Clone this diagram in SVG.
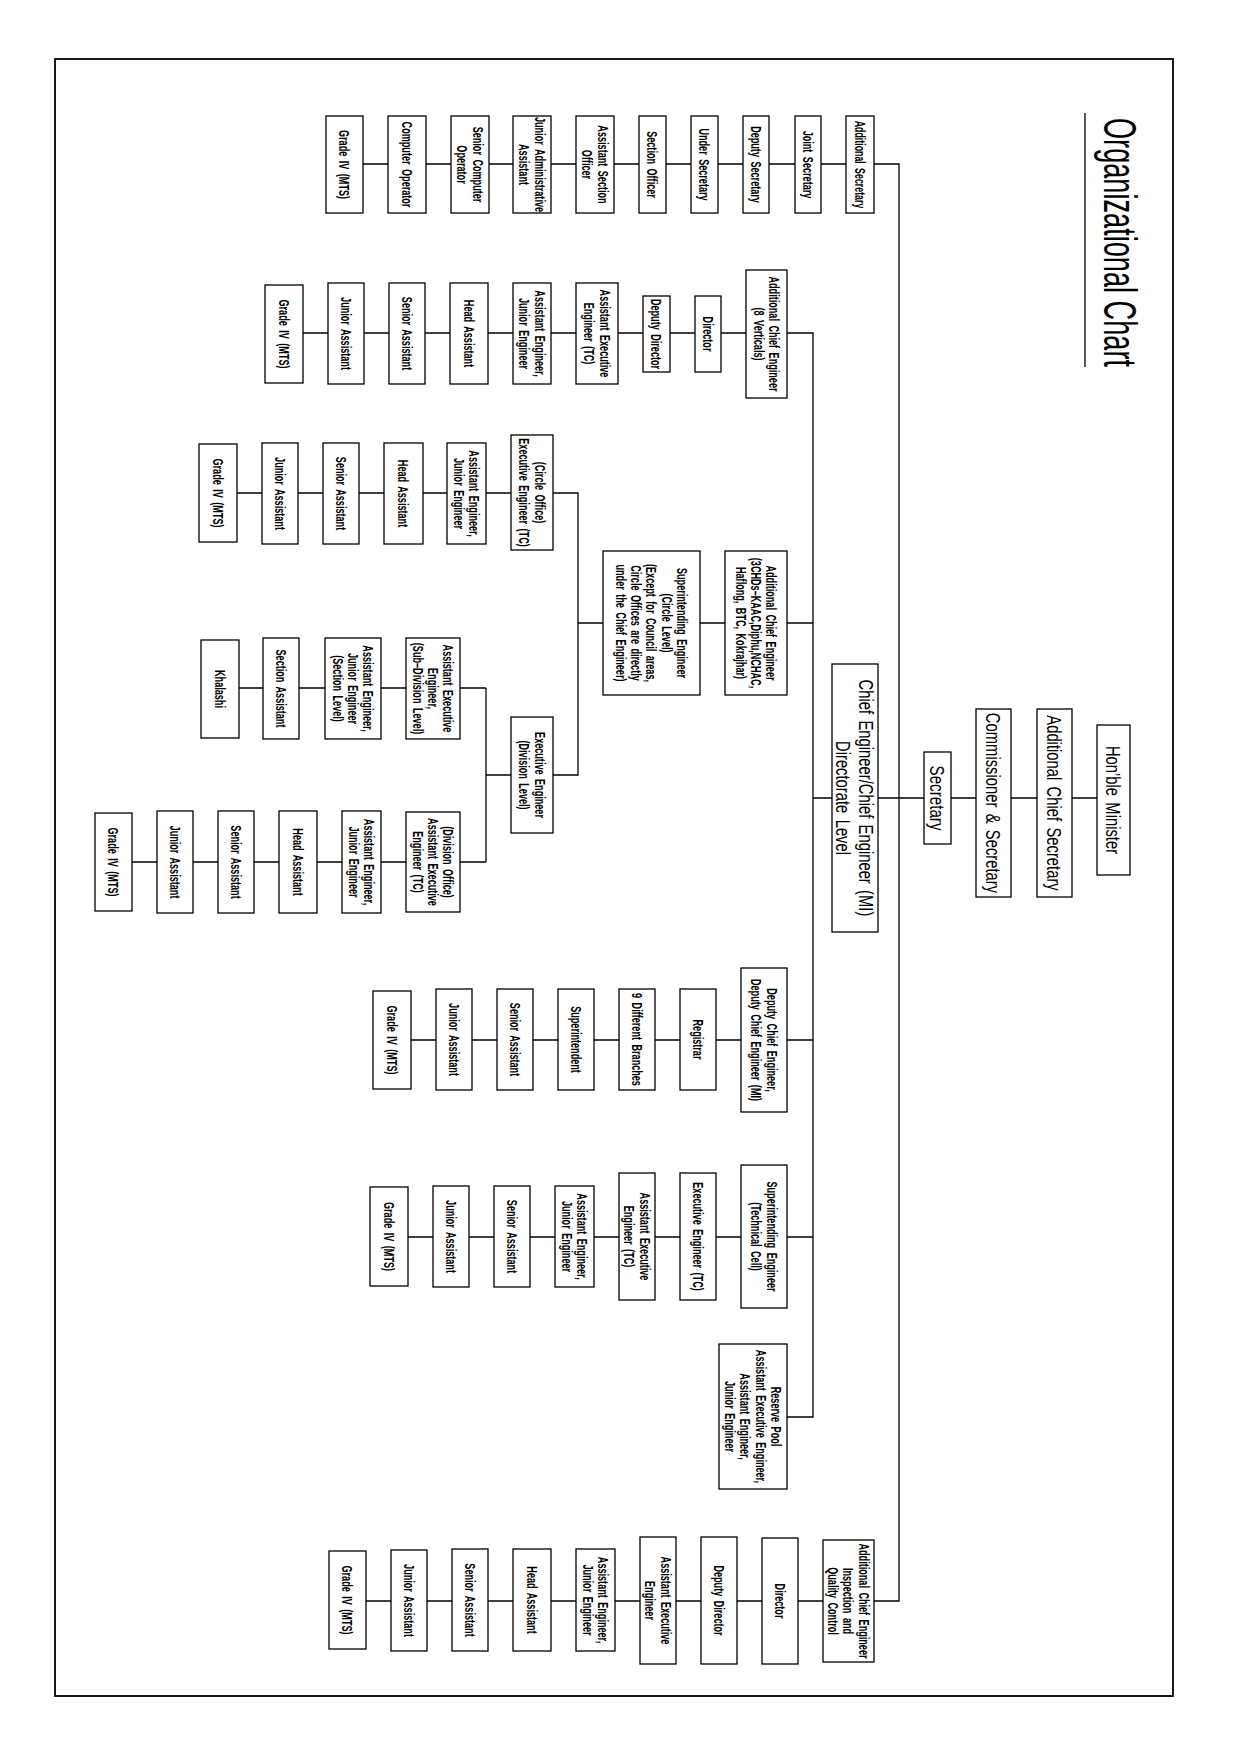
<svg xmlns="http://www.w3.org/2000/svg" width="1241" height="1755" viewBox="0 0 1241 1755">
<style>
.box{fill:#fff;stroke:#000;stroke-width:1.3}
.t{font-family:"Liberation Sans",Arial,sans-serif;font-size:14px;font-weight:bold;text-anchor:middle;fill:#000;word-spacing:3px}
.T{font-family:"Liberation Sans",Arial,sans-serif;font-size:20px;text-anchor:middle;fill:#000;word-spacing:3px}
.conn path{fill:none;stroke:#000;stroke-width:1.3}
</style>
<rect width="1241" height="1755" fill="#fff"/>
<rect x="55" y="59" width="1118" height="1637" fill="none" stroke="#000" stroke-width="1.8"/>
<g id="title">
<line x1="1085" y1="113" x2="1085" y2="367" stroke="#000" stroke-width="1.3"/>
<text transform="translate(1104,118) rotate(90)" x="0" y="0" font-family="Liberation Sans,Arial,sans-serif" font-size="46" textLength="249" lengthAdjust="spacingAndGlyphs">Organizational Chart</text>
</g>
<g id="connectors" class="conn">
<path d="M363,164 H899 V1601 H366"/>
<path d="M303,333 H813 V1417 H787"/>
<path d="M237,493 H578 V775 H486"/>
<path d="M578,623 H813"/>
<path d="M486,688 V862"/>
<path d="M239,688 H486"/>
<path d="M132,862 H486"/>
<path d="M813,798 H1097"/>
<path d="M411,1040 H813"/>
<path d="M408,1237 H813"/>
</g>
<!-- Row 1 -->
<g id="r1_grade"><rect class="box" x="326" y="116" width="37" height="97"/><g transform="translate(344.5,164.5) rotate(90) scale(.65,1)"><text class="t"><tspan x="0" y="5">Grade IV (MTS)</tspan></text></g></g>
<g id="r1_compop"><rect class="box" x="388" y="116" width="38" height="97"/><g transform="translate(407,164.5) rotate(90) scale(.65,1)"><text class="t"><tspan x="0" y="5">Computer Operator</tspan></text></g></g>
<g id="r1_sco"><rect class="box" x="451" y="116" width="38" height="97"/><g transform="translate(470,164.5) rotate(90) scale(.65,1)"><text class="t"><tspan x="0" y="-2.7">Senior Computer</tspan><tspan x="0" y="12.7">Operator</tspan></text></g></g>
<g id="r1_jaa"><rect class="box" x="513" y="116" width="38" height="97"/><g transform="translate(532,164.5) rotate(90) scale(.65,1)"><text class="t"><tspan x="0" y="-2.7">Junior Administrative</tspan><tspan x="0" y="12.7">Assistant</tspan></text></g></g>
<g id="r1_aso"><rect class="box" x="576" y="116" width="38" height="97"/><g transform="translate(595,164.5) rotate(90) scale(.65,1)"><text class="t"><tspan x="0" y="-2.7">Assistant Section</tspan><tspan x="0" y="12.7">Officer</tspan></text></g></g>
<g id="r1_so"><rect class="box" x="639" y="116" width="27" height="97"/><g transform="translate(652.5,164.5) rotate(90) scale(.65,1)"><text class="t"><tspan x="0" y="5">Section Officer</tspan></text></g></g>
<g id="r1_us"><rect class="box" x="691" y="116" width="27" height="97"/><g transform="translate(704.5,164.5) rotate(90) scale(.65,1)"><text class="t"><tspan x="0" y="5">Under Secretary</tspan></text></g></g>
<g id="r1_ds"><rect class="box" x="743" y="116" width="26" height="97"/><g transform="translate(756,164.5) rotate(90) scale(.65,1)"><text class="t"><tspan x="0" y="5">Deputy Secretary</tspan></text></g></g>
<g id="r1_js"><rect class="box" x="795" y="116" width="26" height="97"/><g transform="translate(808,164.5) rotate(90) scale(.65,1)"><text class="t"><tspan x="0" y="5">Joint Secretary</tspan></text></g></g>
<g id="r1_as"><rect class="box" x="846" y="116" width="28" height="97"/><g transform="translate(860,164.5) rotate(90) scale(.63,1)"><text class="t"><tspan x="0" y="5">Additional Secretary</tspan></text></g></g>
<!-- Row 2 -->
<g id="r2_grade"><rect class="box" x="265" y="285" width="38" height="98"/><g transform="translate(284,334) rotate(90) scale(.65,1)"><text class="t"><tspan x="0" y="5">Grade IV (MTS)</tspan></text></g></g>
<g id="r2_ja"><rect class="box" x="328" y="283" width="36" height="101"/><g transform="translate(346,333.5) rotate(90) scale(.65,1)"><text class="t"><tspan x="0" y="5">Junior Assistant</tspan></text></g></g>
<g id="r2_sa"><rect class="box" x="389" y="283" width="36" height="101"/><g transform="translate(407,333.5) rotate(90) scale(.65,1)"><text class="t"><tspan x="0" y="5">Senior Assistant</tspan></text></g></g>
<g id="r2_ha"><rect class="box" x="450" y="283" width="38" height="101"/><g transform="translate(469,333.5) rotate(90) scale(.65,1)"><text class="t"><tspan x="0" y="5">Head Assistant</tspan></text></g></g>
<g id="r2_aeje"><rect class="box" x="513" y="283" width="38" height="101"/><g transform="translate(532,333.5) rotate(90) scale(.65,1)"><text class="t"><tspan x="0" y="-2.7">Assistant Engineer,</tspan><tspan x="0" y="12.7">Junior Engineer</tspan></text></g></g>
<g id="r2_aee"><rect class="box" x="576" y="283" width="42" height="101"/><g transform="translate(597,333.5) rotate(90) scale(.65,1)"><text class="t"><tspan x="0" y="-2.7">Assistant Executive</tspan><tspan x="0" y="12.7">Engineer (TC)</tspan></text></g></g>
<g id="r2_dd"><rect class="box" x="643" y="296" width="27" height="76"/><g transform="translate(656.5,334) rotate(90) scale(.65,1)"><text class="t"><tspan x="0" y="5">Deputy Director</tspan></text></g></g>
<g id="r2_dir"><rect class="box" x="695" y="296" width="26" height="76"/><g transform="translate(708,334) rotate(90) scale(.65,1)"><text class="t"><tspan x="0" y="5">Director</tspan></text></g></g>
<g id="r2_ace"><rect class="box" x="746" y="270" width="41" height="128"/><g transform="translate(766.5,334) rotate(90) scale(.65,1)"><text class="t"><tspan x="0" y="-2.7">Additional Chief Engineer</tspan><tspan x="0" y="12.7">(8 Verticals)</tspan></text></g></g>
<!-- Circle row -->
<g id="c_grade"><rect class="box" x="199" y="444" width="38" height="98"/><g transform="translate(218,493) rotate(90) scale(.65,1)"><text class="t"><tspan x="0" y="5">Grade IV (MTS)</tspan></text></g></g>
<g id="c_ja"><rect class="box" x="262" y="443" width="36" height="101"/><g transform="translate(280,493.5) rotate(90) scale(.65,1)"><text class="t"><tspan x="0" y="5">Junior Assistant</tspan></text></g></g>
<g id="c_sa"><rect class="box" x="323" y="443" width="36" height="101"/><g transform="translate(341,493.5) rotate(90) scale(.65,1)"><text class="t"><tspan x="0" y="5">Senior Assistant</tspan></text></g></g>
<g id="c_ha"><rect class="box" x="384" y="443" width="39" height="101"/><g transform="translate(403.5,493.5) rotate(90) scale(.65,1)"><text class="t"><tspan x="0" y="5">Head Assistant</tspan></text></g></g>
<g id="c_aeje"><rect class="box" x="447" y="443" width="39" height="101"/><g transform="translate(466.5,493.5) rotate(90) scale(.65,1)"><text class="t"><tspan x="0" y="-2.7">Assistant Engineer,</tspan><tspan x="0" y="12.7">Junior Engineer</tspan></text></g></g>
<g id="c_ee"><rect class="box" x="511" y="435" width="42" height="115"/><g transform="translate(532,492.5) rotate(90) scale(.65,1)"><text class="t"><tspan x="0" y="-2.7">(Circle Office)</tspan><tspan x="0" y="12.7">Executive Engineer (TC)</tspan></text></g></g>
<g id="c_se"><rect class="box" x="603" y="551" width="97" height="144"/><g transform="translate(651.5,623) rotate(90) scale(.65,1)"><text class="t"><tspan x="0" y="-25.6">Superintending Engineer</tspan><tspan x="0" y="-10.3">(Circle Level)</tspan><tspan x="0" y="5">(Except for Council areas,</tspan><tspan x="0" y="20.3">Circle Offices are directly</tspan><tspan x="0" y="35.6">under the Chief Engineer)</tspan></text></g></g>
<g id="c_ace"><rect class="box" x="725" y="551" width="62" height="144"/><g transform="translate(756,623) rotate(90) scale(.65,1)"><text class="t"><tspan x="0" y="-10.3">Additional Chief Engineer</tspan><tspan x="0" y="5">(3CHDs–KAAC,Diphu,NCHAC,</tspan><tspan x="0" y="20.3">Haflong, BTC, Kokrajhar)</tspan></text></g></g>
<!-- Division -->
<g id="d_ee"><rect class="box" x="511" y="717" width="42" height="116"/><g transform="translate(532,775) rotate(90) scale(.65,1)"><text class="t"><tspan x="0" y="-2.7">Executive Engineer</tspan><tspan x="0" y="12.7">(Division Level)</tspan></text></g></g>
<g id="d_aee_sub"><rect class="box" x="406" y="638" width="54" height="101"/><g transform="translate(433,688.5) rotate(90) scale(.65,1)"><text class="t"><tspan x="0" y="-10.3">Assistant Executive</tspan><tspan x="0" y="5">Engineer,</tspan><tspan x="0" y="20.3">(Sub–Division Level)</tspan></text></g></g>
<g id="d_aeje_sec"><rect class="box" x="325" y="638" width="56" height="101"/><g transform="translate(353,688.5) rotate(90) scale(.65,1)"><text class="t"><tspan x="0" y="-10.3">Assistant Engineer,</tspan><tspan x="0" y="5">Junior Engineer</tspan><tspan x="0" y="20.3">(Section Level)</tspan></text></g></g>
<g id="d_sa"><rect class="box" x="263" y="638" width="36" height="101"/><g transform="translate(281,688.5) rotate(90) scale(.65,1)"><text class="t"><tspan x="0" y="5">Section Assistant</tspan></text></g></g>
<g id="d_kh"><rect class="box" x="201" y="640" width="38" height="98"/><g transform="translate(220,689) rotate(90) scale(.65,1)"><text class="t"><tspan x="0" y="5">Khalashi</tspan></text></g></g>
<g id="do_aee"><rect class="box" x="406" y="812" width="54" height="100"/><g transform="translate(433,862) rotate(90) scale(.65,1)"><text class="t"><tspan x="0" y="-10.3">(Division Office)</tspan><tspan x="0" y="5">Assistant Executive</tspan><tspan x="0" y="20.3">Engineer (TC)</tspan></text></g></g>
<g id="do_aeje"><rect class="box" x="342" y="811" width="39" height="102"/><g transform="translate(361.5,862) rotate(90) scale(.65,1)"><text class="t"><tspan x="0" y="-2.7">Assistant Engineer,</tspan><tspan x="0" y="12.7">Junior Engineer</tspan></text></g></g>
<g id="do_ha"><rect class="box" x="279" y="811" width="38" height="102"/><g transform="translate(298,862) rotate(90) scale(.65,1)"><text class="t"><tspan x="0" y="5">Head Assistant</tspan></text></g></g>
<g id="do_sa"><rect class="box" x="218" y="811" width="36" height="102"/><g transform="translate(236,862) rotate(90) scale(.65,1)"><text class="t"><tspan x="0" y="5">Senior Assistant</tspan></text></g></g>
<g id="do_ja"><rect class="box" x="157" y="811" width="36" height="102"/><g transform="translate(175,862) rotate(90) scale(.65,1)"><text class="t"><tspan x="0" y="5">Junior Assistant</tspan></text></g></g>
<g id="do_grade"><rect class="box" x="95" y="813" width="37" height="98"/><g transform="translate(113.5,862) rotate(90) scale(.65,1)"><text class="t"><tspan x="0" y="5">Grade IV (MTS)</tspan></text></g></g>
<!-- Top chain -->
<g id="ce"><rect class="box" x="832" y="664" width="46" height="268"/><g transform="translate(855,798) rotate(90) scale(.74,1)"><text class="T"><tspan x="0" y="-4.3">Chief Engineer/Chief Engineer (MI)</tspan><tspan x="0" y="18.7">Directorate Level</tspan></text></g></g>
<g id="secretary"><rect class="box" x="924" y="752" width="27" height="92"/><g transform="translate(937.5,798) rotate(90) scale(.76,1)"><text class="T"><tspan x="0" y="7.2">Secretary</tspan></text></g></g>
<g id="comm"><rect class="box" x="976" y="709" width="35" height="188"/><g transform="translate(993.5,803) rotate(90) scale(.74,1)"><text class="T"><tspan x="0" y="7.2">Commissioner &amp; Secretary</tspan></text></g></g>
<g id="acs"><rect class="box" x="1037" y="709" width="35" height="188"/><g transform="translate(1054.5,803) rotate(90) scale(.74,1)"><text class="T"><tspan x="0" y="7.2">Additional Chief Secretary</tspan></text></g></g>
<g id="minister"><rect class="box" x="1097" y="725" width="33" height="150"/><g transform="translate(1113.5,800) rotate(90) scale(.74,1)"><text class="T"><tspan x="0" y="7.2">Hon’ble Minister</tspan></text></g></g>
<!-- DCE chain -->
<g id="dce"><rect class="box" x="741" y="968" width="46" height="144"/><g transform="translate(764,1040) rotate(90) scale(.65,1)"><text class="t"><tspan x="0" y="-2.7">Deputy Chief Engineer,</tspan><tspan x="0" y="12.7">Deputy Chief Engineer (MI)</tspan></text></g></g>
<g id="dce_reg"><rect class="box" x="680" y="989" width="36" height="101"/><g transform="translate(698,1039.5) rotate(90) scale(.65,1)"><text class="t"><tspan x="0" y="5">Registrar</tspan></text></g></g>
<g id="dce_9br"><rect class="box" x="619" y="989" width="36" height="101"/><g transform="translate(637,1039.5) rotate(90) scale(.65,1)"><text class="t"><tspan x="0" y="5">9 Different Branches</tspan></text></g></g>
<g id="dce_supt"><rect class="box" x="558" y="989" width="36" height="101"/><g transform="translate(576,1039.5) rotate(90) scale(.65,1)"><text class="t"><tspan x="0" y="5">Superintendent</tspan></text></g></g>
<g id="dce_sa"><rect class="box" x="497" y="989" width="36" height="101"/><g transform="translate(515,1039.5) rotate(90) scale(.65,1)"><text class="t"><tspan x="0" y="5">Senior Assistant</tspan></text></g></g>
<g id="dce_ja"><rect class="box" x="436" y="989" width="36" height="101"/><g transform="translate(454,1039.5) rotate(90) scale(.65,1)"><text class="t"><tspan x="0" y="5">Junior Assistant</tspan></text></g></g>
<g id="dce_grade"><rect class="box" x="373" y="991" width="38" height="98"/><g transform="translate(392,1040) rotate(90) scale(.65,1)"><text class="t"><tspan x="0" y="5">Grade IV (MTS)</tspan></text></g></g>
<!-- SE technical cell chain -->
<g id="setc"><rect class="box" x="741" y="1165" width="46" height="143"/><g transform="translate(764,1236.5) rotate(90) scale(.65,1)"><text class="t"><tspan x="0" y="-2.7">Superintending Engineer</tspan><tspan x="0" y="12.7">(Technical Cell)</tspan></text></g></g>
<g id="setc_ee"><rect class="box" x="680" y="1173" width="36" height="127"/><g transform="translate(698,1236.5) rotate(90) scale(.65,1)"><text class="t"><tspan x="0" y="5">Executive Engineer (TC)</tspan></text></g></g>
<g id="setc_aee"><rect class="box" x="619" y="1173" width="36" height="127"/><g transform="translate(637,1236.5) rotate(90) scale(.65,1)"><text class="t"><tspan x="0" y="-2.7">Assistant Executive</tspan><tspan x="0" y="12.7">Engineer (TC)</tspan></text></g></g>
<g id="setc_aeje"><rect class="box" x="555" y="1186" width="39" height="101"/><g transform="translate(574.5,1236.5) rotate(90) scale(.65,1)"><text class="t"><tspan x="0" y="-2.7">Assistant Engineer,</tspan><tspan x="0" y="12.7">Junior Engineer</tspan></text></g></g>
<g id="setc_sa"><rect class="box" x="494" y="1186" width="36" height="101"/><g transform="translate(512,1236.5) rotate(90) scale(.65,1)"><text class="t"><tspan x="0" y="5">Senior Assistant</tspan></text></g></g>
<g id="setc_ja"><rect class="box" x="433" y="1186" width="36" height="101"/><g transform="translate(451,1236.5) rotate(90) scale(.65,1)"><text class="t"><tspan x="0" y="5">Junior Assistant</tspan></text></g></g>
<g id="setc_grade"><rect class="box" x="370" y="1187" width="38" height="99"/><g transform="translate(389,1236.5) rotate(90) scale(.65,1)"><text class="t"><tspan x="0" y="5">Grade IV (MTS)</tspan></text></g></g>
<!-- Reserve pool -->
<g id="reserve"><rect class="box" x="719" y="1344" width="68" height="145"/><g transform="translate(753,1416.5) rotate(90) scale(.65,1)"><text class="t"><tspan x="0" y="-17.95">Reserve Pool</tspan><tspan x="0" y="-2.65">Assistant Executive Engineer,</tspan><tspan x="0" y="12.65">Assistant Engineer,</tspan><tspan x="0" y="27.95">Junior Engineer</tspan></text></g></g>
<!-- Bottom chain -->
<g id="aceiqc"><rect class="box" x="823" y="1540" width="51" height="122"/><g transform="translate(848.5,1601) rotate(90) scale(.65,1)"><text class="t"><tspan x="0" y="-10.3">Additional Chief Engineer</tspan><tspan x="0" y="5">Inspection and</tspan><tspan x="0" y="20.3">Quality Control</tspan></text></g></g>
<g id="iqc_dir"><rect class="box" x="762" y="1538" width="36" height="126"/><g transform="translate(780,1601) rotate(90) scale(.65,1)"><text class="t"><tspan x="0" y="5">Director</tspan></text></g></g>
<g id="iqc_dd"><rect class="box" x="701" y="1537" width="36" height="127"/><g transform="translate(719,1600.5) rotate(90) scale(.65,1)"><text class="t"><tspan x="0" y="5">Deputy Director</tspan></text></g></g>
<g id="iqc_aee"><rect class="box" x="640" y="1537" width="36" height="127"/><g transform="translate(658,1600.5) rotate(90) scale(.65,1)"><text class="t"><tspan x="0" y="-2.7">Assistant Executive</tspan><tspan x="0" y="12.7">Engineer</tspan></text></g></g>
<g id="iqc_aeje"><rect class="box" x="576" y="1549" width="39" height="102"/><g transform="translate(595.5,1600) rotate(90) scale(.65,1)"><text class="t"><tspan x="0" y="-2.7">Assistant Engineer,</tspan><tspan x="0" y="12.7">Junior Engineer</tspan></text></g></g>
<g id="iqc_ha"><rect class="box" x="513" y="1549" width="38" height="102"/><g transform="translate(532,1600) rotate(90) scale(.65,1)"><text class="t"><tspan x="0" y="5">Head Assistant</tspan></text></g></g>
<g id="iqc_sa"><rect class="box" x="452" y="1549" width="36" height="102"/><g transform="translate(470,1600) rotate(90) scale(.65,1)"><text class="t"><tspan x="0" y="5">Senior Assistant</tspan></text></g></g>
<g id="iqc_ja"><rect class="box" x="391" y="1550" width="36" height="101"/><g transform="translate(409,1600.5) rotate(90) scale(.65,1)"><text class="t"><tspan x="0" y="5">Junior Assistant</tspan></text></g></g>
<g id="iqc_grade"><rect class="box" x="329" y="1551" width="37" height="98"/><g transform="translate(347.5,1600) rotate(90) scale(.65,1)"><text class="t"><tspan x="0" y="5">Grade IV (MTS)</tspan></text></g></g>
</svg>
